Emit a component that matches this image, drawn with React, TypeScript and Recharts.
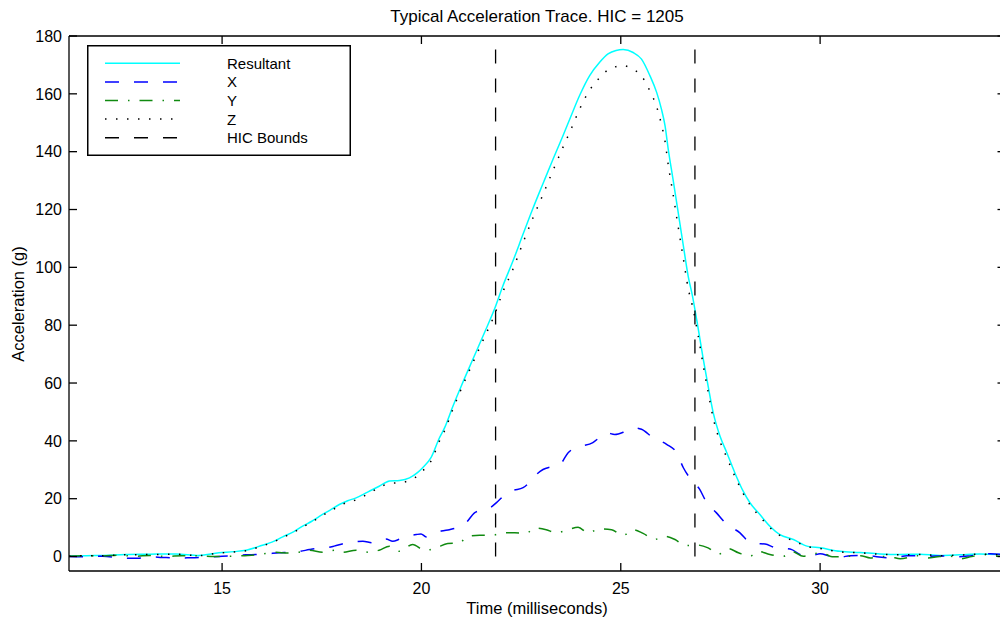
import { LineChart, Line, XAxis, YAxis, ReferenceLine, Legend } from 'recharts';

const FONT = '"Liberation Sans", Arial, Helvetica, sans-serif';

// Resultant and Z were read at the same instants (ms)
const resultantTime = [
  11.16, 11.6, 12.0, 12.58, 13.17, 13.84, 14.42, 14.92, 15.3, 15.6,
  16.01, 16.25, 16.52, 16.8, 17.02, 17.25, 17.44, 17.7, 17.94, 18.15,
  18.36, 18.65, 18.94, 19.2, 19.45, 19.7, 19.9, 20.03, 20.24, 20.45,
  20.58, 20.79, 21.0, 21.29, 21.58, 21.83, 22.04, 22.29, 22.55, 22.8,
  23.05, 23.3, 23.55, 23.76, 23.97, 24.22, 24.47, 24.68, 24.88, 25.06,
  25.31, 25.52, 25.73, 25.9, 26.02, 26.11, 26.19, 26.31, 26.44, 26.57,
  26.69, 26.8, 26.94, 27.07, 27.19, 27.32, 27.49, 27.66, 27.86, 28.07,
  28.24, 28.49, 28.74, 28.99, 29.33, 29.67, 30.0, 30.5, 31.0, 31.5,
  32.0, 32.5, 33.0, 33.5, 34.0, 34.65,
];
const resultantG = [
  0.1, 0.3, 0.4, 0.7, 0.8, 0.9, 0.4, 1.3, 1.7, 2.2,
  3.9, 5.0, 6.8, 8.6, 10.5, 12.2, 13.9, 16.0, 18.0, 19.3,
  20.3, 22.3, 24.3, 26.1, 26.3, 27.2, 29.0, 30.7, 34.2, 41.0,
  44.5, 52.0, 59.0, 68.2, 77.4, 85.5, 93.5, 102.0, 111.5, 120.5,
  129.0, 137.4, 145.5, 152.6, 159.5, 166.3, 170.9, 173.8, 175.0, 175.3,
  174.3, 172.0, 166.3, 160.5, 154.7, 149.0, 140.9, 130.5, 119.0, 107.4,
  97.0, 90.0, 79.0, 68.2, 59.0, 49.7, 41.6, 35.9, 29.0, 22.6,
  18.6, 14.5, 10.5, 7.6, 5.9, 3.6, 3.0, 1.8, 1.4, 0.9,
  0.7, 0.8, 0.4, 0.6, 0.9, 0.6,
];
const zG = [
  0.1, 0.3, 0.3, 0.6, 0.7, 0.8, 0.3, 1.2, 1.6, 2.0,
  3.7, 4.8, 6.6, 8.4, 10.2, 11.9, 13.6, 15.6, 17.5, 18.8,
  19.6, 21.6, 23.8, 25.3, 25.5, 26.3, 27.9, 29.6, 33.0, 39.9,
  43.5, 51.0, 58.0, 67.0, 75.8, 83.5, 91.4, 99.2, 108.6, 117.2,
  125.2, 133.5, 141.5, 148.0, 154.8, 161.3, 165.6, 168.3, 169.4, 169.7,
  168.5, 166.2, 161.0, 155.5, 149.4, 143.6, 135.5, 125.5, 114.0, 103.0,
  92.8, 86.5, 76.5, 66.0, 57.0, 47.8, 39.8, 34.2, 27.8, 21.8,
  17.9, 13.8, 10.0, 7.3, 5.5, 3.5, 2.8, 1.6, 1.3, 0.8,
  0.6, 0.7, 0.3, 0.5, 0.8, 0.5,
];

const xTime = [
  11.16, 11.6, 12.0, 12.5, 12.9, 13.2, 13.5, 13.9, 14.25, 14.6,
  15.0, 15.3, 15.6, 15.85, 16.1, 16.43, 16.68, 16.95, 17.19, 17.39,
  17.6, 17.81, 18.11, 18.3, 18.53, 18.78, 18.95, 19.11, 19.28, 19.45,
  19.65, 19.87, 19.99, 20.12, 20.3, 20.5, 20.7, 20.9, 21.12, 21.33,
  21.5, 21.71, 21.92, 22.1, 22.29, 22.55, 22.7, 22.84, 23.05, 23.25,
  23.47, 23.68, 23.85, 24.01, 24.3, 24.47, 24.64, 24.85, 25.14, 25.35,
  25.52, 25.81, 26.15, 26.4, 26.57, 26.73, 26.98, 27.15, 27.4, 27.66,
  27.99, 28.2, 28.4, 28.62, 28.87, 29.1, 29.29, 29.54, 29.79, 30.0,
  30.25, 30.5, 30.75, 31.0, 31.26, 31.42, 31.84, 32.18, 32.5, 32.76,
  33.1, 33.43, 33.8, 34.27, 34.65,
];
const xG = [
  0.0, -0.1, 0.1, -0.5, -0.6, -0.1, -0.3, -0.5, -0.4, -0.3,
  0.1, 0.2, 0.6, 0.7, 0.9, 1.3, 1.5, 1.8, 2.4, 2.8,
  3.0, 3.6, 4.7, 5.0, 5.3, 4.7, 5.3, 6.1, 5.3, 6.0,
  7.0, 7.6, 7.8, 6.8, 7.8, 8.8, 9.3, 10.0, 11.7, 15.1,
  16.0, 16.8, 19.1, 21.5, 22.8, 23.8, 25.5, 27.8, 30.1, 31.0,
  31.8, 35.9, 37.6, 38.2, 39.4, 41.2, 42.8, 42.2, 43.4, 44.5,
  44.0, 41.1, 38.8, 35.9, 30.7, 27.2, 23.2, 18.8, 15.1, 11.1,
  8.2, 5.3, 4.5, 4.3, 3.1, 2.8, 2.4, 0.5, 0.3, 1.0,
  0.1, -0.2, 0.3, 0.4, 0.3, -0.1, -0.5, 0.3, 0.3, 0.1,
  0.2, -0.1, 0.3, 1.0, 0.5,
];

const yTime = [
  11.16, 11.6, 12.0, 12.4, 12.8, 13.2, 13.6, 14.0, 14.42, 14.8,
  15.26, 15.51, 15.9, 16.35, 16.65, 16.93, 17.19, 17.52, 17.86, 18.02,
  18.36, 18.69, 18.94, 19.2, 19.45, 19.78, 20.08, 20.37, 20.66, 20.95,
  21.16, 21.46, 21.79, 22.04, 22.34, 22.63, 22.84, 23.13, 23.38, 23.68,
  23.93, 24.18, 24.47, 24.77, 25.06, 25.31, 25.56, 25.85, 26.1, 26.36,
  26.61, 26.9, 27.19, 27.45, 27.7, 27.95, 28.24, 28.45, 28.74, 29.08,
  29.29, 29.58, 29.8, 30.04, 30.3, 30.6, 31.01, 31.26, 31.5, 31.76,
  32.01, 32.43, 32.68, 33.0, 33.27, 33.52, 33.8, 34.1, 34.43, 34.65,
];
const yG = [
  0.1, 0.3, 0.2, 0.5, 0.1, 0.4, 0.0, 0.3, 0.3, 0.0,
  0.1, 0.3, 0.6, 1.5, 1.2, 1.5, 2.2, 1.5, 2.2, 1.5,
  2.2, 1.5, 2.2, 3.6, 1.8, 4.2, 2.1, 3.0, 4.5, 4.7,
  7.0, 7.4, 7.4, 8.2, 8.2, 8.0, 9.9, 9.3, 8.2, 9.3,
  10.1, 8.2, 9.6, 9.3, 7.3, 9.3, 8.0, 5.9, 7.0, 5.9,
  3.8, 4.0, 3.0, 0.8, 2.7, 1.3, 0.1, 1.8, 0.7, 0.1,
  1.8, 0.1, 0.8, 1.4, -0.1, 0.0, 0.3, -0.5, 0.0, -0.1,
  -0.8, 0.3, -0.5, 0.0, 0.1, -0.8, 0.0, 0.7, 0.1, 0.2,
];

// HIC window (ms) and the height the bound lines are drawn to (g)
const hicBounds = [21.86, 26.86];
const hicTop = 175.3;

const timeTicks = [15, 20, 25, 30];
const accelTicks = [0, 20, 40, 60, 80, 100, 120, 140, 160, 180];
const timeDomain: [number, number] = [11.16, 34.65];
const accelDomain: [number, number] = [-5, 180];

const toPoints = (time: number[], g: number[]) => time.map((t, i) => ({ t, g: g[i] }));

// Z is plotted against the mirrored top/right axes (same scales) so the
// boxed frame gets its inward ticks on all four sides.
const series = [
  { name: 'Resultant', data: toPoints(resultantTime, resultantG), color: '#00ffff', dash: undefined, xId: 'bottom', yId: 'left' },
  { name: 'X', data: toPoints(xTime, xG), color: '#0000ff', dash: '14 15', xId: 'bottom', yId: 'left' },
  { name: 'Y', data: toPoints(yTime, yG), color: '#108a10', dash: '13 10 1.5 10', xId: 'bottom', yId: 'left' },
  { name: 'Z', data: toPoints(resultantTime, zG), color: '#000000', dash: '1.5 9.5', xId: 'top', yId: 'right' },
];
const hicStyle = { name: 'HIC Bounds', color: '#000000', dash: '14 15' };

const tickStyle = { fill: '#000', fontSize: 16, fontFamily: FONT };

function TraceLegend() {
  const rows = [...series, hicStyle];
  return (
    <svg width={264} height={111} style={{ display: 'block' }}>
      <rect x={0.75} y={0.75} width={262.5} height={109.5} fill="#fff" stroke="#000" strokeWidth={1.5} />
      {rows.map((row, i) => {
        const y = 18.3 + i * 18.6;
        return (
          <g key={row.name}>
            <line x1={18} x2={93} y1={y} y2={y} stroke={row.color} strokeWidth={1.5} strokeDasharray={row.dash} />
            <text x={140} y={y} dominantBaseline="central" fontSize={15} fontFamily={FONT} fill="#000">
              {row.name}
            </text>
          </g>
        );
      })}
    </svg>
  );
}

export default function App() {
  return (
    <div
      style={{
        position: 'absolute',
        left: 0,
        top: 0,
        width: 1000,
        height: 625,
        overflow: 'hidden',
        background: '#fff',
        fontFamily: FONT,
      }}
    >
      <LineChart width={1007} height={625} margin={{ top: 35, right: 0.5, bottom: 24, left: 9 }}>
        <XAxis
          xAxisId="bottom"
          type="number"
          dataKey="t"
          domain={timeDomain}
          allowDataOverflow
          ticks={timeTicks}
          height={30}
          tickSize={-8}
          tickMargin={20}
          stroke="#000"
          strokeWidth={1.3}
          tick={tickStyle}
        />
        <XAxis
          xAxisId="top"
          orientation="top"
          type="number"
          dataKey="t"
          domain={timeDomain}
          allowDataOverflow
          ticks={timeTicks}
          height={1}
          tickSize={-8}
          tickFormatter={() => ''}
          stroke="#000"
          strokeWidth={1.3}
        />
        <YAxis
          yAxisId="left"
          type="number"
          domain={accelDomain}
          allowDataOverflow
          ticks={accelTicks}
          width={60}
          tickSize={-8}
          tickMargin={15}
          stroke="#000"
          strokeWidth={1.3}
          tick={tickStyle}
        />
        <YAxis
          yAxisId="right"
          orientation="right"
          type="number"
          domain={accelDomain}
          allowDataOverflow
          ticks={accelTicks}
          width={1}
          tickSize={-8}
          tickFormatter={() => ''}
          stroke="#000"
          strokeWidth={1.3}
        />
        {series.map((s) => (
          <Line
            key={s.name}
            xAxisId={s.xId}
            yAxisId={s.yId}
            data={s.data}
            dataKey="g"
            name={s.name}
            type="monotone"
            stroke={s.color}
            strokeWidth={1.5}
            strokeDasharray={s.dash}
            dot={false}
            activeDot={false}
            isAnimationActive={false}
          />
        ))}
        {hicBounds.map((t) => (
          <ReferenceLine
            key={t}
            xAxisId="bottom"
            yAxisId="left"
            segment={[{ x: t, y: 0 }, { x: t, y: hicTop }]}
            stroke={hicStyle.color}
            strokeWidth={1.3}
            strokeDasharray={hicStyle.dash}
          />
        ))}
        <Legend
          layout="vertical"
          align="center"
          verticalAlign="middle"
          content={<TraceLegend />}
          wrapperStyle={{ left: 87, top: 45, width: 264, height: 111 }}
        />
        <text x={537} y={22} textAnchor="middle" fontSize={17} fontFamily={FONT} fill="#000">
          Typical Acceleration Trace. HIC = 1205
        </text>
        <text x={537} y={614} textAnchor="middle" fontSize={16.5} fontFamily={FONT} fill="#000">
          Time (milliseconds)
        </text>
        <text
          x={0}
          y={0}
          transform="translate(24 304) rotate(-90)"
          textAnchor="middle"
          fontSize={16.5}
          fontFamily={FONT}
          fill="#000"
        >
          Acceleration (g)
        </text>
      </LineChart>
    </div>
  );
}
